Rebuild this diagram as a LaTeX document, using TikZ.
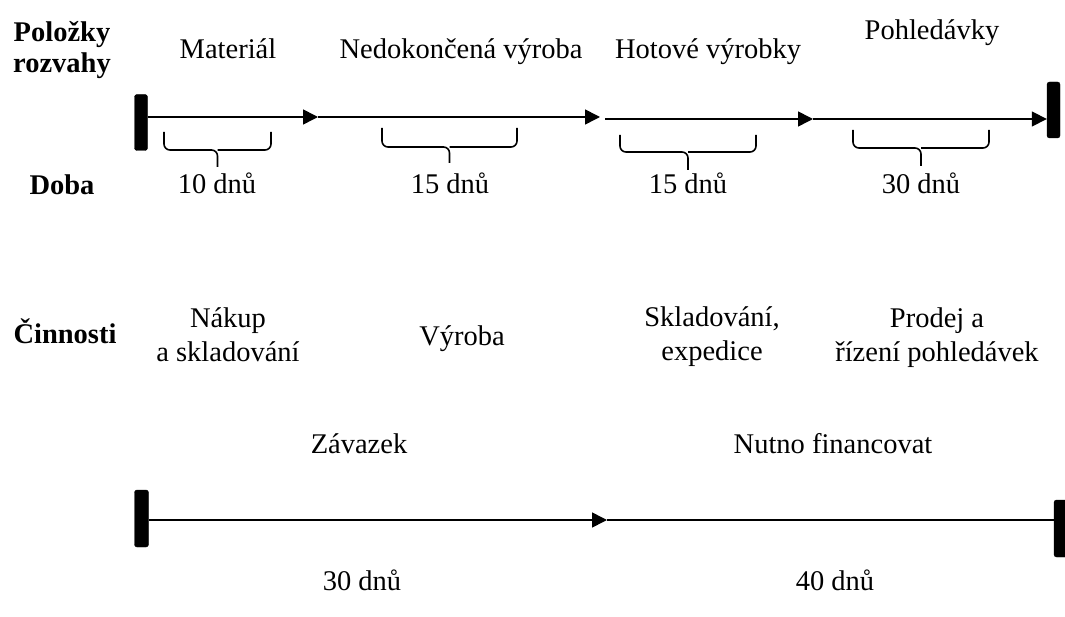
\documentclass[tikz,border=0pt]{standalone}
\usepackage{fontspec}
\setmainfont{Liberation Serif}
\usetikzlibrary{arrows.meta}
\pgfdeclarelayer{background}
\pgfsetlayers{background,main}

% under-brace: left x, right x, top y, bar y, tip y
\newcommand\drawbrace[5]{%
  \draw[bracestyle] (#1,#3) -- (#1,#4) -- ({(#1+#2)/2},#4) -- ({(#1+#2)/2},#5);
  \draw[bracestyle] (#2,#3) -- (#2,#4) -- ({(#1+#2)/2},#4);
}

\tikzset{
  txt/.style={inner sep=0pt, font=\fontsize{28.5}{34}\selectfont, align=center},
  head/.style={txt, font=\fontsize{28.5}{31}\selectfont\bfseries},
  endbar/.style={draw=black, fill=black, rounded corners=2.5pt, inner sep=0pt,
    minimum width=13pt, minimum height=56pt},
  flow/.style={line width=1.6pt, -{Triangle[length=15pt,width=15pt]}},
  bracestyle/.style={line width=1.6pt, rounded corners=6pt}
}

\begin{document}
\begin{tikzpicture}[x=1pt, y=-1pt]
\useasboundingbox (0,0) rectangle (1065,617);

% row headings (base = baseline of the last line)
\node[head, anchor=base] (hpol) at (62,73) {Položky\\rozvahy};
\node[head, anchor=base] (hdoba) at (62,195) {Doba};
\node[head, anchor=base] (hcin) at (65,344) {Činnosti};

% balance sheet items
\node[txt, anchor=base] (material) at (228,59) {Materiál};
\node[txt, anchor=base] (nedok) at (461,59) {Nedokončená výroba};
\node[txt, anchor=base] (hotove) at (708,59) {Hotové výrobky};
\node[txt, anchor=base] (pohl) at (932,40) {Pohledávky};

% end bars
\node[endbar] (barA) at (141,122.5) {};
\node[endbar] (barB) at (1053.5,110) {};
\node[endbar, minimum width=14pt, minimum height=57pt] (barC) at (141.5,518.5) {};
\node[endbar, minimum width=14pt, minimum height=57pt] (barD) at (1061,528.5) {};

% points along the upper time axis
\coordinate (p1) at (318,117);
\coordinate (p2) at (600,117);
\coordinate (p3s) at (605,119);
\coordinate (p3) at (813,119);
% points along the lower time axis
\coordinate (m1) at (607,520);

\begin{pgfonlayer}{background}
\draw[flow] (barA.east |- p1) -- (p1);
\draw[flow] (p1) -- (p2);
\draw[flow] (p3s) -- (p3);
\draw[flow] (p3) -- (barB.west |- p3);
\draw[flow] (barC.east |- m1) -- (m1);
\draw[flow] (m1) -- ([xshift=5pt]barD.east |- m1);
\end{pgfonlayer}

% durations
\drawbrace{164}{271}{132}{150}{167}
\drawbrace{382}{517}{128}{147}{163}
\drawbrace{620}{756}{135}{152}{170}
\drawbrace{853}{989}{130}{148}{166}

\node[txt, anchor=base] (d1) at (217,194) {10 dnů};
\node[txt, anchor=base] (d2) at (450,194) {15 dnů};
\node[txt, anchor=base] (d3) at (688,194) {15 dnů};
\node[txt, anchor=base] (d4) at (921,194) {30 dnů};

% activities
\node[txt, anchor=base] (a1) at (228,362) {Nákup\\a skladování};
\node[txt, anchor=base] (a2) at (462,345) {Výroba};
\node[txt, anchor=base] (a3) at (712,360) {Skladování,\\expedice};
\node[txt, anchor=base] (a4) at (937,362) {Prodej a\\řízení pohledávek};

% financing
\node[txt, anchor=base] (zav) at (359,453) {Závazek};
\node[txt, anchor=base] (nut) at (833,453) {Nutno financovat};
\node[txt, anchor=base] (z30) at (362,590) {30 dnů};
\node[txt, anchor=base] (n40) at (835,590) {40 dnů};
\end{tikzpicture}
\end{document}
